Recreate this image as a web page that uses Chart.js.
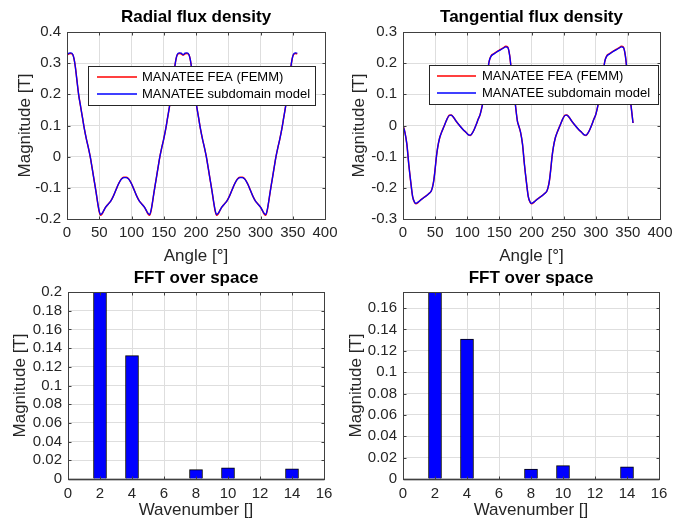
<!DOCTYPE html>
<html>
<head>
<meta charset="utf-8">
<script src="https://cdn.jsdelivr.net/npm/chart.js@4.4.1/dist/chart.umd.min.js"></script>
<style>
  html, body { margin: 0; padding: 0; background: #ffffff; }
  body { width: 688px; height: 529px; position: relative; overflow: hidden; }
  canvas { position: absolute; }
</style>
</head>
<body>
<canvas id="c1" width="344" height="268" style="left:0px;top:0px;"></canvas>
<canvas id="c2" width="344" height="268" style="left:344px;top:0px;"></canvas>
<canvas id="c3" width="344" height="261" style="left:0px;top:268px;"></canvas>
<canvas id="c4" width="344" height="261" style="left:344px;top:268px;"></canvas>
<script>
// ---------------- DATA ----------------
const seriesLabels = ['MANATEE FEA (FEMM)', 'MANATEE subdomain model'];

const radialAngles = [0,3,6,9,11,13,15,18,21,24,27,30,33,36,39,42,45,48,50,52,54,57,60,64,68,72,76,80,84,88,
  92,96,100,104,108,112,116,120,123,126,128,130,132,135,138,141,144,147,150,153,156,159,162,165,167,169,171,174,177,
  180,183,186,189,191,193,195,198,201,204,207,210,213,216,219,222,225,228,230,232,234,237,240,244,248,252,256,260,264,268,
  272,276,280,284,288,292,296,300,303,306,308,310,312,315,318,321,324,327,330,333,336,339,342,345,347,349,351,354,357];

const radialSubdomain = [0.327,0.332,0.333,0.328,0.313,0.287,0.252,0.2,0.162,0.125,
  0.088,0.057,0.03,0.0,-0.037,-0.075,-0.113,-0.153,-0.175,-0.186,
  -0.183,-0.173,-0.162,-0.152,-0.142,-0.126,-0.106,-0.087,-0.073,-0.067,
  -0.067,-0.073,-0.087,-0.106,-0.126,-0.142,-0.152,-0.162,-0.173,-0.183,
  -0.186,-0.175,-0.153,-0.113,-0.075,-0.037,0.0,0.03,0.057,0.088,
  0.125,0.162,0.2,0.252,0.287,0.313,0.328,0.333,0.332,
  0.327,0.332,0.333,0.328,0.313,0.287,0.252,0.2,0.162,0.125,
  0.088,0.057,0.03,0.0,-0.037,-0.075,-0.113,-0.153,-0.175,-0.186,
  -0.183,-0.173,-0.162,-0.152,-0.142,-0.126,-0.106,-0.087,-0.073,-0.067,
  -0.067,-0.073,-0.087,-0.106,-0.126,-0.142,-0.152,-0.162,-0.173,-0.183,
  -0.186,-0.175,-0.153,-0.113,-0.075,-0.037,0.0,0.03,0.057,0.088,
  0.125,0.162,0.2,0.252,0.287,0.313,0.328,0.333,0.332];

const radialFEMM = [0.326,0.330,0.331,0.327,0.313,0.287,0.252,0.2,0.162,0.125,
  0.088,0.057,0.03,0.0,-0.037,-0.075,-0.113,-0.154,-0.177,-0.188,
  -0.185,-0.173,-0.162,-0.152,-0.142,-0.126,-0.106,-0.087,-0.072,-0.066,
  -0.066,-0.072,-0.087,-0.106,-0.126,-0.142,-0.152,-0.162,-0.173,-0.185,
  -0.188,-0.177,-0.154,-0.113,-0.075,-0.037,0.0,0.03,0.057,0.088,
  0.125,0.162,0.2,0.252,0.287,0.313,0.327,0.331,0.330,
  0.326,0.330,0.331,0.327,0.313,0.287,0.252,0.2,0.162,0.125,
  0.088,0.057,0.03,0.0,-0.037,-0.075,-0.113,-0.154,-0.177,-0.188,
  -0.185,-0.173,-0.162,-0.152,-0.142,-0.126,-0.106,-0.087,-0.072,-0.066,
  -0.066,-0.072,-0.087,-0.106,-0.126,-0.142,-0.152,-0.162,-0.173,-0.185,
  -0.188,-0.177,-0.154,-0.113,-0.075,-0.037,0.0,0.03,0.057,0.088,
  0.125,0.162,0.2,0.252,0.287,0.313,0.327,0.331,0.330];

const tangentialAngles = [0,3,6,9,12,15,18,20,24,28,32,36,40,44,46,48,50,52,54,57,
  60,64,68,72,75,79,83,88,93,98,102,105,108,111,114,117,120,124,128,131,
  134,137,141,146,151,156,160,163,166,169,172,175,178,
  180,183,186,189,192,195,198,200,204,208,212,216,220,224,226,228,230,232,234,237,
  240,244,248,252,255,259,263,268,273,278,282,285,288,291,294,297,300,304,308,311,
  314,317,321,326,331,336,340,343,346,349,352,355,358];

const tangentialSubdomain = [0,-0.022,-0.06,-0.125,-0.18,-0.228,-0.246,-0.25,-0.245,-0.238,
  -0.232,-0.226,-0.219,-0.21,-0.197,-0.175,-0.14,-0.1,-0.07,-0.04,
  -0.022,-0.002,0.018,0.032,0.033,0.025,0.013,0.0,-0.012,-0.022,
  -0.03,-0.031,-0.024,-0.012,0.003,0.02,0.035,0.07,0.115,0.16,
  0.205,0.222,0.229,0.236,0.242,0.248,0.252,0.25,0.225,0.17,
  0.115,0.065,0.015,
  0,-0.022,-0.06,-0.125,-0.18,-0.228,-0.246,-0.25,-0.245,-0.238,
  -0.232,-0.226,-0.219,-0.21,-0.197,-0.175,-0.14,-0.1,-0.07,-0.04,
  -0.022,-0.002,0.018,0.032,0.033,0.025,0.013,0.0,-0.012,-0.022,
  -0.03,-0.031,-0.024,-0.012,0.003,0.02,0.035,0.07,0.115,0.16,
  0.205,0.222,0.229,0.236,0.242,0.248,0.252,0.25,0.225,0.17,
  0.115,0.062,0.008];

const tangentialFEMM = [0,-0.022,-0.06,-0.125,-0.18,-0.228,-0.247,-0.251,-0.246,-0.238,
  -0.232,-0.226,-0.219,-0.21,-0.197,-0.175,-0.14,-0.1,-0.07,-0.04,
  -0.022,-0.002,0.018,0.033,0.034,0.025,0.013,0.0,-0.012,-0.022,
  -0.03,-0.032,-0.024,-0.012,0.003,0.02,0.035,0.07,0.115,0.16,
  0.205,0.223,0.230,0.237,0.243,0.249,0.254,0.252,0.225,0.17,
  0.115,0.065,0.015,
  0,-0.022,-0.06,-0.125,-0.18,-0.228,-0.247,-0.251,-0.246,-0.238,
  -0.232,-0.226,-0.219,-0.21,-0.197,-0.175,-0.14,-0.1,-0.07,-0.04,
  -0.022,-0.002,0.018,0.033,0.034,0.025,0.013,0.0,-0.012,-0.022,
  -0.03,-0.032,-0.024,-0.012,0.003,0.02,0.035,0.07,0.115,0.16,
  0.205,0.223,0.230,0.237,0.243,0.249,0.254,0.252,0.225,0.17,
  0.115,0.062,0.008];

const wavenumbers = [2, 4, 8, 10, 14];
const radialHarmonics = [0.22, 0.132, 0.010, 0.012, 0.011];
const tangentialHarmonics = [0.2, 0.131, 0.0094, 0.0125, 0.0113];

const angleTicks = [0,50,100,150,200,250,300,350,400];
const radialTicks = [-0.2,-0.1,0,0.1,0.2,0.3,0.4];
const tangentialTicks = [-0.3,-0.2,-0.1,0,0.1,0.2,0.3];
const waveTicks = [0,2,4,6,8,10,12,14,16];
const radialFFTTicks = [0,0.02,0.04,0.06,0.08,0.1,0.12,0.14,0.16,0.18,0.2];
const tangentialFFTTicks = [0,0.02,0.04,0.06,0.08,0.1,0.12,0.14,0.16];

// ---------------- STYLE ----------------
const FONT = '"Liberation Sans", Arial, Helvetica, sans-serif';
const TXT = '#262626';
const GRID = '#dedede';
const fmt = v => String(+Number(v).toFixed(4));

const matlabAxes = {
  id: 'matlabAxes',
  afterDraw(chart, args, o) {
    const ctx = chart.ctx, a = chart.chartArea, xs = chart.scales.x, ys = chart.scales.y;
    ctx.save();
    const L = Math.round(a.left) + 0.5, R = Math.round(a.right) + 0.5;
    const T = Math.round(a.top) + 0.5, B = Math.round(a.bottom) + 0.5;
    if (o.baseline) {
      const py = Math.round(ys.getPixelForValue(0)) + 0.5;
      ctx.strokeStyle = '#000'; ctx.lineWidth = 1.6;
      ctx.beginPath(); ctx.moveTo(L, py); ctx.lineTo(R, py); ctx.stroke();
    }
    ctx.strokeStyle = '#404040'; ctx.lineWidth = 1;
    ctx.strokeRect(L, T, R - L, B - T);
    const tl = 3;
    ctx.beginPath();
    xs.ticks.forEach(t => {
      const px = Math.round(xs.getPixelForValue(t.value)) + 0.5;
      ctx.moveTo(px, B); ctx.lineTo(px, B - tl);
      ctx.moveTo(px, T); ctx.lineTo(px, T + tl);
    });
    ys.ticks.forEach(t => {
      const py = Math.round(ys.getPixelForValue(t.value)) + 0.5;
      ctx.moveTo(L, py); ctx.lineTo(L + tl, py);
      ctx.moveTo(R, py); ctx.lineTo(R - tl, py);
    });
    ctx.stroke();
    // plot title
    ctx.fillStyle = '#000';
    ctx.font = 'bold 17px ' + FONT;
    ctx.textAlign = 'center'; ctx.textBaseline = 'middle';
    ctx.fillText(o.title, (a.left + a.right) / 2, o.titleY);
    // legend
    if (o.legend) {
      const g = o.legend;
      ctx.fillStyle = '#fff';
      ctx.fillRect(g.x, g.y, g.w, g.h);
      ctx.strokeStyle = '#262626'; ctx.lineWidth = 1;
      ctx.strokeRect(g.x + 0.5, g.y + 0.5, g.w, g.h);
      ctx.font = '13px ' + FONT;
      ctx.textAlign = 'left'; ctx.textBaseline = 'middle';
      chart.data.datasets.forEach((ds, i) => {
        const ry = g.rows[i];
        ctx.strokeStyle = ds.borderColor; ctx.lineWidth = 1.3;
        ctx.beginPath(); ctx.moveTo(g.lx0, ry); ctx.lineTo(g.lx1, ry); ctx.stroke();
        ctx.fillStyle = '#000';
        ctx.fillText(ds.label, g.tx, ry + 0.5);
      });
    }
    ctx.restore();
  }
};

function pts(xs, ys) { return xs.map((x, i) => ({ x: x, y: ys[i] })); }

function axisCfg(opt) {
  return {
    type: 'linear', min: opt.min, max: opt.max, offset: false,
    afterBuildTicks: s => { s.ticks = opt.ticks.map(v => ({ value: v })); },
    afterFit: s => { if (opt.width !== undefined) s.width = opt.width; if (opt.height !== undefined) s.height = opt.height; },
    grid: { color: GRID, lineWidth: 1, drawTicks: false, offset: false },
    border: { display: false },
    ticks: { font: { family: FONT, size: 15 }, color: TXT, padding: opt.tickPad, maxRotation: 0, autoSkip: false, callback: v => fmt(v) },
    title: { display: true, text: opt.title, font: { family: FONT, size: 17 }, color: TXT, padding: opt.titlePad }
  };
}

function lineChart(id, p) {
  return new Chart(document.getElementById(id), {
    type: 'line',
    data: { datasets: [
      { label: seriesLabels[0], data: pts(p.x, p.femm), borderColor: '#ff0000', borderWidth: 1.5, pointRadius: 0, cubicInterpolationMode: 'monotone', fill: false, order: 2 },
      { label: seriesLabels[1], data: pts(p.x, p.sub), borderColor: '#0000ff', borderWidth: 1.3, pointRadius: 0, cubicInterpolationMode: 'monotone', fill: false, order: 1 }
    ]},
    options: {
      responsive: false, animation: false, events: [],
      layout: { padding: { left: 0, top: 32, right: p.padRight, bottom: 0 }, autoPadding: false },
      plugins: { legend: { display: false }, tooltip: { enabled: false }, title: { display: false },
        matlabAxes: { title: p.title, titleY: 17, legend: p.legend } },
      scales: {
        x: axisCfg({ min: 0, max: 400, ticks: angleTicks, height: 49, tickPad: 5, title: 'Angle [°]', titlePad: { top: 0, bottom: 1.5 } }),
        y: axisCfg({ min: p.ymin, max: p.ymax, ticks: p.yticks, width: p.yw, tickPad: 6, title: 'Magnitude [T]', titlePad: { top: p.ytp, bottom: 0 } })
      }
    },
    plugins: [matlabAxes]
  });
}

function barChart(id, p) {
  return new Chart(document.getElementById(id), {
    type: 'bar',
    data: { datasets: [
      { label: 'FFT', data: pts(wavenumbers, p.vals), backgroundColor: '#0000ff', borderColor: '#000000', borderWidth: 1, borderSkipped: 'start', barThickness: 13 }
    ]},
    options: {
      responsive: false, animation: false, events: [],
      layout: { padding: { left: 0, top: 24, right: p.padRight, bottom: 0 }, autoPadding: false },
      plugins: { legend: { display: false }, tooltip: { enabled: false }, title: { display: false },
        matlabAxes: { title: 'FFT over space', titleY: 10, baseline: true } },
      scales: {
        x: axisCfg({ min: 0, max: 16, ticks: waveTicks, height: 50, tickPad: 6, title: 'Wavenumber []', titlePad: { top: 0, bottom: 8 } }),
        y: axisCfg({ min: 0, max: p.ymax, ticks: p.yticks, width: p.yw, tickPad: 6, title: 'Magnitude [T]', titlePad: { top: p.ytp, bottom: 0 } })
      }
    },
    plugins: [matlabAxes]
  });
}

lineChart('c1', { x: radialAngles, femm: radialFEMM, sub: radialSubdomain, title: 'Radial flux density',
  ymin: -0.2, ymax: 0.4, yticks: radialTicks, yw: 67, ytp: 15.5, padRight: 19,
  legend: { x: 88, y: 66, w: 227, h: 39, rows: [77, 94], lx0: 97, lx1: 137, tx: 142 } });

lineChart('c2', { x: tangentialAngles, femm: tangentialFEMM, sub: tangentialSubdomain, title: 'Tangential flux density',
  ymin: -0.3, ymax: 0.3, yticks: tangentialTicks, yw: 59, ytp: 5.5, padRight: 28,
  legend: { x: 85, y: 65, w: 229, h: 39, rows: [76, 93], lx0: 93, lx1: 132, tx: 138 } });

barChart('c3', { vals: radialHarmonics, ymax: 0.2, yticks: radialFFTTicks, yw: 68, ytp: 10.3, padRight: 20 });
barChart('c4', { vals: tangentialHarmonics, ymax: 0.175, yticks: tangentialFFTTicks, yw: 59, ytp: 2, padRight: 29 });
</script>
</body>
</html>
